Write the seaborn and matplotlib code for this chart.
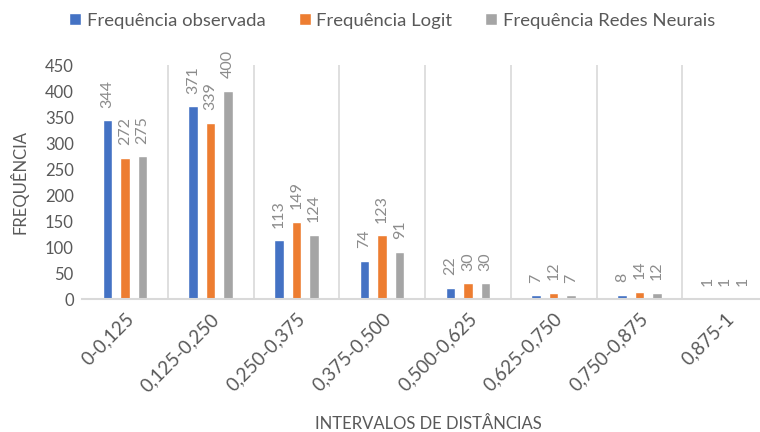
import numpy as np
import pandas as pd
import seaborn as sns
import matplotlib.pyplot as plt

# dados do gráfico
intervalos = ['0-0,125', '0,125-0,250', '0,250-0,375', '0,375-0,500',
              '0,500-0,625', '0,625-0,750', '0,750-0,875', '0,875-1']
series = ['Frequência observada', 'Frequência Logit', 'Frequência Redes Neurais']
freq_observada = [344, 371, 113, 74, 22, 7, 8, 1]
freq_logit = [272, 339, 149, 123, 30, 12, 14, 1]
freq_redes = [275, 400, 124, 91, 30, 7, 12, 1]
cores = ['#4472C4', '#ED7D31', '#A5A5A5']

df = pd.DataFrame({
    'Intervalo': intervalos * 3,
    'Série': [series[0]] * 8 + [series[1]] * 8 + [series[2]] * 8,
    'Frequência': freq_observada + freq_logit + freq_redes,
})

sns.set_style('white')
plt.rcParams['font.family'] = ['Lato', 'DejaVu Sans']

fig = plt.figure(figsize=(7.6, 4.32), dpi=100)
ax = fig.add_axes([82 / 760, 1 - 299 / 432, 686 / 760, 234 / 432])

sns.barplot(data=df, x='Intervalo', y='Frequência', hue='Série', order=intervalos,
            hue_order=series, palette=cores, width=0.615, gap=0.46,
            saturation=1, ax=ax)

for cont in ax.containers:
    ax.bar_label(cont, rotation=90, padding=9, color='#8c8c8c', fontsize=11.5)

ax.set_ylim(0, 450)
ax.set_yticks(np.arange(0, 451, 50))
ax.set_xlim(-0.5, 7.5)
ax.vlines(np.arange(0.5, 7.5, 1), 0, 450, color='#d9d9d9', lw=1.2, zorder=0)

for s in ['top', 'right', 'left']:
    ax.spines[s].set_visible(False)
ax.spines['bottom'].set_color('#d9d9d9')
ax.spines['bottom'].set_linewidth(1.5)

ax.tick_params(axis='y', colors='#595959', labelsize=12, length=0, pad=6)
ax.tick_params(axis='x', colors='#595959', labelsize=13.5, length=0, pad=8)
plt.setp(ax.get_xticklabels(), rotation=45, ha='right', rotation_mode='anchor')

ax.set_ylabel('FREQUÊNCIA', color='#595959', fontsize=12)
ax.set_xlabel('INTERVALOS DE DISTÂNCIAS', color='#595959', fontsize=12)
ax.yaxis.set_label_coords(-0.078, 0.5)
ax.xaxis.set_label_coords(0.505, -0.50)

ax.legend(loc='center', bbox_to_anchor=(0.452, 1.19), ncol=3, frameon=False,
          fontsize=13.3, handlelength=0.65, handleheight=0.65, handletextpad=0.3,
          columnspacing=1.8, labelcolor='#595959')

plt.savefig('out.png', dpi=100)
